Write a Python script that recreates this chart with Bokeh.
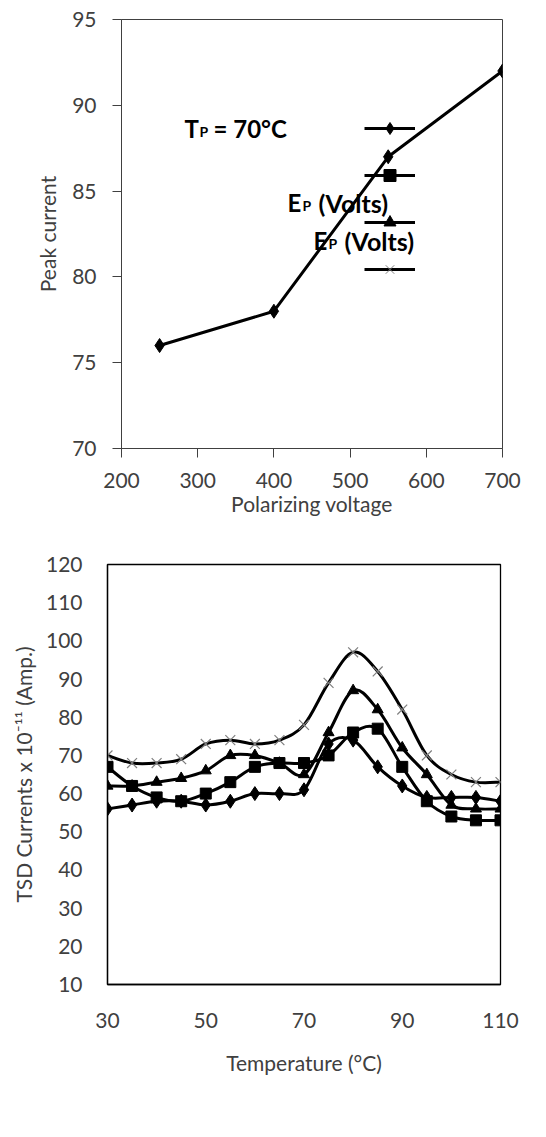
import numpy as np
from bokeh.plotting import figure
from bokeh.models import Range1d, Legend, LegendItem, Label, FixedTicker, Title
from bokeh.embed import file_html
from bokeh.resources import INLINE

# ---------------- data ----------------
top_voltage = [250, 400, 550, 700]
top_peak = [76, 78, 87, 92]
top_xticks = [200, 300, 400, 500, 600, 700]
top_yticks = [70, 75, 80, 85, 90, 95]

temps = [30, 35, 40, 45, 50, 55, 60, 65, 70, 75, 80, 85, 90, 95, 100, 105, 110]
s_diamond = [56, 57, 58, 58, 57, 58, 60, 60, 61, 73, 74, 67, 62, 59, 59, 59, 58]
s_square = [67, 62, 59, 58, 60, 63, 67, 68, 68, 70, 76, 77, 67, 58, 54, 53, 53]
s_triangle = [62, 62, 63, 64, 66, 70, 70, 68, 65, 76, 87, 82, 72, 65, 57, 56, 56]
s_cross = [70, 68, 68, 69, 73, 74, 73, 74, 78, 89, 97, 92, 82, 70, 65, 63, 63]
bot_xticks = [30, 50, 70, 90, 110]
bot_yticks = [10, 20, 30, 40, 50, 60, 70, 80, 90, 100, 110, 120]

FONT = "Lato"
TICK_COL = "#404040"

# ---------------- top chart ----------------
W = 540
T_L, T_R, T_T, T_B = 121, 502, 19, 448
H1 = 526
p1 = figure(width=W, height=H1, output_backend="svg", toolbar_location=None,
            x_range=Range1d(200, 700), y_range=Range1d(70, 95),
            min_border_left=T_L, min_border_right=W - T_R,
            min_border_top=T_T, min_border_bottom=H1 - T_B)
p1.xgrid.visible = False
p1.ygrid.visible = False
p1.outline_line_color = "#404040"
p1.outline_line_width = 1
p1.xaxis.ticker = FixedTicker(ticks=top_xticks)
p1.yaxis.ticker = FixedTicker(ticks=top_yticks)
for ax in (p1.xaxis[0], p1.yaxis[0]):
    ax.axis_line_color = "#404040"
    ax.major_tick_line_color = "#404040"
    ax.major_tick_out = 9
    ax.major_tick_in = 0
    ax.minor_tick_line_color = None
    ax.major_label_text_font = FONT
    ax.major_label_text_font_size = "21px"
    ax.major_label_text_color = TICK_COL
    ax.axis_label_text_font = FONT
    ax.axis_label_text_font_size = "21px"
    ax.axis_label_text_font_style = "normal"
    ax.axis_label_text_color = TICK_COL
p1.xaxis.axis_label = "Polarizing voltage"
p1.yaxis.axis_label = "Peak current"
p1.yaxis.major_label_standoff = 16
p1.xaxis.major_label_standoff = 15
p1.yaxis.axis_label_standoff = 9
p1.xaxis.axis_label_standoff = 0

p1.line(top_voltage, top_peak, line_width=3, color="black")
p1.scatter(top_voltage, top_peak, marker="diamond", size=14, color="black")

# leftover legend (line + marker samples, empty labels)
leg_items = []
for mk, col in [("diamond", "black"), ("square", "black"),
                ("triangle", "black"), ("x", "#7f7f7f")]:
    rl = p1.line([np.nan], [np.nan], line_width=3, color="black")
    rm = p1.scatter([np.nan], [np.nan], marker=mk, size=10,
                    fill_color=col, line_color=col, line_width=1)
    leg_items.append(LegendItem(label=" ", renderers=[rl, rm]))
legend = Legend(items=leg_items, location=(364 - T_L, T_B - 284), glyph_width=51,
                glyph_height=30, label_height=30, spacing=17, padding=0, margin=0,
                label_standoff=0, label_width=0, label_text_font_size="1px",
                border_line_alpha=0, background_fill_alpha=0)
p1.add_layout(legend)


def px1(px):
    return 200 + (px - T_L) / float(T_R - T_L) * 500


def py1(py):
    return 95 - (py - T_T) / float(T_B - T_T) * 25


def lab(p, x, y, text, size):
    p.add_layout(Label(x=x, y=y, text=text, text_font=FONT, text_font_size=size,
                       text_font_style="bold", text_color="black",
                       text_baseline="alphabetic", text_align="left"))


lab(p1, px1(184), py1(128), "T", "24px")
lab(p1, px1(199), py1(131), "P", "14px")
lab(p1, px1(213), py1(128), "= 70°C", "24px")
lab(p1, px1(287), py1(202), "E", "24px")
lab(p1, px1(302), py1(205), "P", "14px")
lab(p1, px1(318), py1(202), "(Volts)", "25px")
lab(p1, px1(313), py1(240), "E", "24px")
lab(p1, px1(328), py1(243), "P", "14px")
lab(p1, px1(344), py1(240), "(Volts)", "25px")

# ---------------- bottom chart ----------------
B_L, B_R, B_T, B_B = 107, 500, 38, 458
H2 = 560
p2 = figure(width=W, height=H2, output_backend="svg", toolbar_location=None,
            x_range=Range1d(30, 110), y_range=Range1d(10, 120),
            min_border_left=B_L, min_border_right=W - B_R,
            min_border_top=B_T, min_border_bottom=H2 - B_B)
p2.xgrid.visible = False
p2.ygrid.visible = False
p2.outline_line_color = "black"
p2.outline_line_width = 1.3
p2.xaxis.ticker = FixedTicker(ticks=bot_xticks)
p2.yaxis.ticker = FixedTicker(ticks=bot_yticks)
for ax in (p2.xaxis[0], p2.yaxis[0]):
    ax.axis_line_color = "black"
    ax.axis_line_width = 1.3
    ax.major_tick_out = 0
    ax.major_tick_in = 0
    ax.major_tick_line_color = None
    ax.minor_tick_line_color = None
    ax.major_label_text_font = FONT
    ax.major_label_text_font_size = "21px"
    ax.major_label_text_color = TICK_COL
    ax.axis_label_text_font = FONT
    ax.axis_label_text_font_size = "21px"
    ax.axis_label_text_font_style = "normal"
    ax.axis_label_text_color = TICK_COL
p2.xaxis.axis_label = "Temperature (°C)"
p2.yaxis.major_label_standoff = 25
p2.xaxis.major_label_standoff = 28
p2.xaxis.axis_label_standoff = 19

# y-axis title as a side title
p2.add_layout(Title(text="TSD Currents x 10⁻¹¹ (Amp.)", align="center",
                    text_font=FONT, text_font_size="21px", text_font_style="normal",
                    text_color=TICK_COL, standoff=14), "left")


def smooth_segments(xs, ys):
    x = np.asarray(xs, dtype=float)
    y = np.asarray(ys, dtype=float)
    n = len(x)
    i = np.arange(n - 1)
    im1 = np.maximum(i - 1, 0)
    ip2 = np.minimum(i + 2, n - 1)
    cx0 = x[i] + (x[i + 1] - x[im1]) / 6.0
    cy0 = y[i] + (y[i + 1] - y[im1]) / 6.0
    cx1 = x[i + 1] - (x[ip2] - x[i]) / 6.0
    cy1 = y[i + 1] - (y[ip2] - y[i]) / 6.0
    return dict(x0=x[:-1], y0=y[:-1], x1=x[1:], y1=y[1:], cx0=cx0, cy0=cy0, cx1=cx1, cy1=cy1)


series = [
    (s_diamond, "diamond", 14, "black"),
    (s_square, "square", 11, "black"),
    (s_triangle, "triangle", 11, "black"),
    (s_cross, "x", 14, "#7f7f7f"),
]
for vals, mk, sz, col in series:
    seg = smooth_segments(temps, vals)
    p2.bezier(x0=seg["x0"], y0=seg["y0"], x1=seg["x1"], y1=seg["y1"],
              cx0=seg["cx0"], cy0=seg["cy0"], cx1=seg["cx1"], cy1=seg["cy1"],
              line_width=3, line_color="black")
    if mk == "x":
        p2.scatter(temps, vals, marker=mk, size=sz, line_color=col, line_width=1.2)
    else:
        p2.scatter(temps, vals, marker=mk, size=sz, fill_color=col, line_color=col)

open("out.html", "w").write(file_html([p1, p2], INLINE))
